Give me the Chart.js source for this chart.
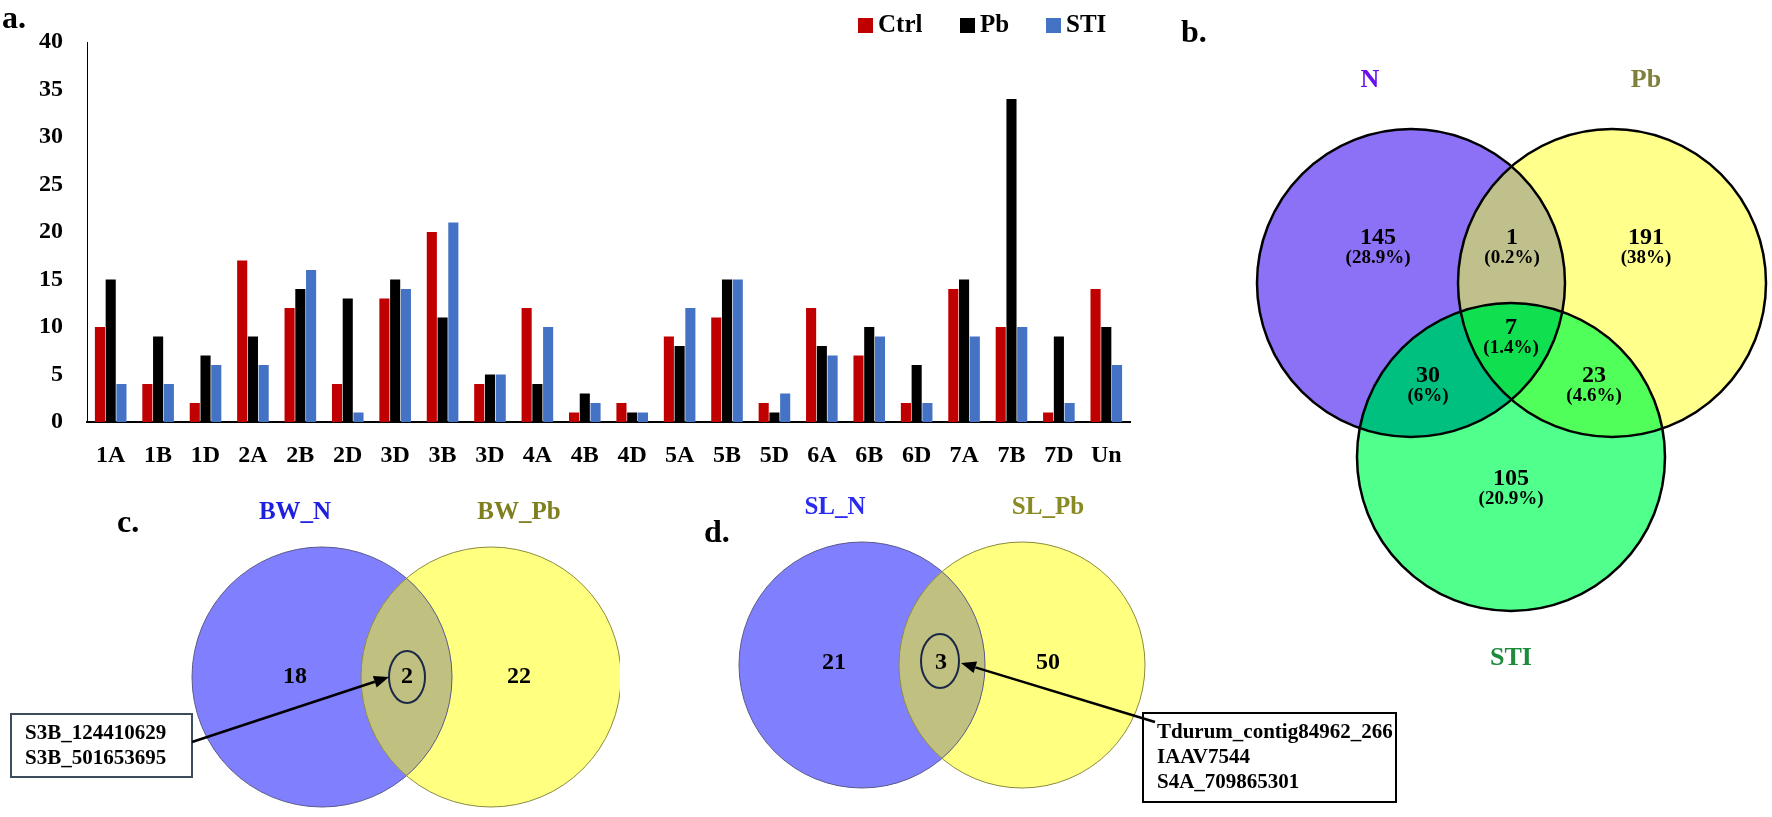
<!DOCTYPE html>
<html>
<head>
<meta charset="utf-8">
<script src="https://cdn.jsdelivr.net/npm/chart.js@4.4.0/dist/chart.umd.min.js"></script>
<style>
  html, body { margin: 0; padding: 0; background: #fff; }
  body { width: 1772px; height: 817px; position: relative; overflow: hidden; }
  canvas { position: absolute; }
</style>
</head>
<body>
<canvas id="bars" width="1150" height="480" style="left:0;top:0"></canvas>
<canvas id="vennB" width="652" height="700" style="left:1120px;top:0"></canvas>
<canvas id="vennC" width="620" height="337" style="left:0;top:480px"></canvas>
<canvas id="vennD" width="800" height="337" style="left:620px;top:480px"></canvas>
<script>
// ---- data ----
var chromosomes = ['1A','1B','1D','2A','2B','2D','3D','3B','3D','4A','4B','4D','5A','5B','5D','6A','6B','6D','7A','7B','7D','Un'];
var ctrlCounts = [10,4,2,17,12,4,13,20,4,12,1,2,9,11,2,12,7,2,14,10,1,14];
var pbCounts   = [15,9,7,9,14,13,15,11,5,4,3,1,8,15,1,8,10,6,15,34,9,10];
var stiCounts  = [4,4,6,6,16,1,14,21,5,10,2,1,12,15,3,7,9,2,9,10,2,6];
var seriesNames = ['Ctrl','Pb','STI'];
var yTickValues = [0,5,10,15,20,25,30,35,40];

// venn b: regions N, N&Pb, Pb, N&STI, N&Pb&STI, Pb&STI, STI
var vennBSets = ['N','Pb','STI'];
var vennBCounts = [145,1,191,30,7,23,105];
var vennBPercents = ['28.9%','0.2%','38%','6%','1.4%','4.6%','20.9%'];

// venn c / d: regions left only, shared, right only
var vennCSets = ['BW_N','BW_Pb'];
var vennCCounts = [18,2,22];
var vennCShared = ['S3B_124410629','S3B_501653695'];
var vennDSets = ['SL_N','SL_Pb'];
var vennDCounts = [21,3,50];
var vennDShared = ['Tdurum_contig84962_266','IAAV7544','S4A_709865301'];

// ---- styling / layout ----
var SERIF = '"Liberation Serif", "Times New Roman", serif';
var seriesColors = ['#C00000','#000000','#4472C4'];
function font(size) { return 'bold ' + size + 'px ' + SERIF; }

// legend for the bar chart, drawn from the datasets
var legendPlugin = {
  id: 'barLegend',
  afterDraw: function (chart) {
    var ctx = chart.ctx;
    var boxX = [858, 960, 1046];
    ctx.save();
    ctx.font = font(25);
    ctx.textBaseline = 'middle';
    chart.data.datasets.forEach(function (ds, i) {
      ctx.fillStyle = ds.backgroundColor;
      ctx.fillRect(boxX[i], 18, 15, 15);
      ctx.fillStyle = '#000';
      ctx.fillText(ds.label, boxX[i] + 20, 26);
    });
    ctx.font = font(32);
    ctx.textBaseline = 'alphabetic';
    ctx.fillText('a.', 2, 28);
    ctx.restore();
  }
};

new Chart(document.getElementById('bars'), {
  type: 'bar',
  data: {
    labels: chromosomes,
    datasets: [
      { label: seriesNames[0], data: ctrlCounts, backgroundColor: seriesColors[0] },
      { label: seriesNames[1], data: pbCounts, backgroundColor: seriesColors[1] },
      { label: seriesNames[2], data: stiCounts, backgroundColor: seriesColors[2] }
    ]
  },
  options: {
    responsive: false,
    animation: false,
    layout: { padding: { left: 0, top: 42, right: 20, bottom: 0 } },
    datasets: { bar: { barPercentage: 0.94, categoryPercentage: 0.68, borderWidth: 0 } },
    plugins: { legend: { display: false }, tooltip: { enabled: false } },
    scales: {
      x: {
        grid: { display: false, drawTicks: false },
        border: { display: true, color: '#000', width: 2 },
        ticks: { color: '#000', font: { family: SERIF, size: 24, weight: 'bold' }, padding: 19, autoSkip: false, maxRotation: 0 },
        afterFit: function (s) { s.height = 58; }
      },
      y: {
        min: 0, max: 40,
        grid: { display: false, drawTicks: false },
        border: { display: true, color: '#000', width: 1 },
        afterBuildTicks: function (s) { s.ticks = yTickValues.map(function (v) { return { value: v }; }); },
        ticks: { color: '#000', font: { family: SERIF, size: 24, weight: 'bold' }, padding: 24 },
        afterFit: function (s) { s.width = 87; }
      }
    }
  },
  plugins: [legendPlugin]
});

// ---- venn diagrams on hidden linear scales (page coordinates) ----
function vennChart(id, box, draw) {
  return new Chart(document.getElementById(id), {
    type: 'scatter',
    data: { datasets: [{ data: [], pointRadius: 0 }] },
    options: {
      responsive: false,
      animation: false,
      layout: { padding: 0 },
      plugins: { legend: { display: false }, tooltip: { enabled: false } },
      scales: {
        x: { type: 'linear', display: false, min: box.left, max: box.left + box.width },
        y: { type: 'linear', display: false, reverse: true, min: box.top, max: box.top + box.height }
      }
    },
    plugins: [{ id: 'venn' + id, afterDatasetsDraw: function (chart) { draw(chart, chart.ctx); } }]
  });
}

function helpers(chart) {
  var sx = chart.scales.x, sy = chart.scales.y;
  return {
    x: function (v) { return sx.getPixelForValue(v); },
    y: function (v) { return sy.getPixelForValue(v); },
    r: function (c) { return sx.getPixelForValue(c.x + c.r) - sx.getPixelForValue(c.x); }
  };
}
function circlePath(ctx, h, c) {
  ctx.beginPath();
  ctx.arc(h.x(c.x), h.y(c.y), h.r(c), 0, Math.PI * 2);
}
function fillRegion(ctx, h, clips, shape, color) {
  ctx.save();
  clips.forEach(function (c) { circlePath(ctx, h, c); ctx.clip(); });
  circlePath(ctx, h, shape);
  ctx.fillStyle = color;
  ctx.fill();
  ctx.restore();
}
function text(ctx, h, s, x, y, size, color, align) {
  ctx.font = font(size);
  ctx.fillStyle = color || '#000';
  ctx.textAlign = align || 'center';
  ctx.textBaseline = 'middle';
  ctx.fillText(s, h.x(x), h.y(y));
}
function arrow(ctx, h, from, to) {
  var x1 = h.x(from[0]), y1 = h.y(from[1]), x2 = h.x(to[0]), y2 = h.y(to[1]);
  var a = Math.atan2(y2 - y1, x2 - x1), len = 15, w = 6;
  ctx.save();
  ctx.strokeStyle = '#000';
  ctx.lineWidth = 2.5;
  ctx.beginPath();
  ctx.moveTo(x1, y1);
  ctx.lineTo(x2 - Math.cos(a) * len, y2 - Math.sin(a) * len);
  ctx.stroke();
  ctx.fillStyle = '#000';
  ctx.beginPath();
  ctx.moveTo(x2, y2);
  ctx.lineTo(x2 - Math.cos(a) * len - Math.sin(a) * w, y2 - Math.sin(a) * len + Math.cos(a) * w);
  ctx.lineTo(x2 - Math.cos(a) * len + Math.sin(a) * w, y2 - Math.sin(a) * len - Math.cos(a) * w);
  ctx.closePath();
  ctx.fill();
  ctx.restore();
}

// venn b
vennChart('vennB', { left: 1120, top: 0, width: 652, height: 700 }, function (chart, ctx) {
  var h = helpers(chart);
  var cN = { x: 1411, y: 283, r: 154 }, cP = { x: 1612, y: 283, r: 154 }, cS = { x: 1511, y: 457, r: 154 };
  fillRegion(ctx, h, [], cN, '#8C70F5');
  fillRegion(ctx, h, [], cP, '#FFFF8C');
  fillRegion(ctx, h, [], cS, '#50FF8C');
  fillRegion(ctx, h, [cN], cP, '#C0C08C');
  fillRegion(ctx, h, [cN], cS, '#00C080');
  fillRegion(ctx, h, [cP], cS, '#50FF5A');
  fillRegion(ctx, h, [cN, cP], cS, '#10E050');
  ctx.save();
  ctx.strokeStyle = '#000';
  ctx.lineWidth = 2.5;
  [cN, cP, cS].forEach(function (c) { circlePath(ctx, h, c); ctx.stroke(); });
  ctx.restore();

  var anchors = [[1378, 238], [1512, 238], [1646, 238], [1428, 376], [1511, 328], [1594, 376], [1511, 479]];
  vennBCounts.forEach(function (n, i) {
    text(ctx, h, String(n), anchors[i][0], anchors[i][1], 24);
    text(ctx, h, '(' + vennBPercents[i] + ')', anchors[i][0], anchors[i][1] + 20, 19);
  });
  text(ctx, h, vennBSets[0], 1370, 80, 26, '#6A10F0');
  text(ctx, h, vennBSets[1], 1646, 80, 26, '#80803A');
  text(ctx, h, vennBSets[2], 1511, 658, 26, '#1E8A3C');
  ctx.font = font(32);
  ctx.fillStyle = '#000';
  ctx.textAlign = 'left';
  ctx.textBaseline = 'alphabetic';
  ctx.fillText('b.', h.x(1181), h.y(42));
});

function twoSetVenn(opts) {
  return function (chart, ctx) {
    var h = helpers(chart);
    var cL = opts.left, cR = opts.right;
    fillRegion(ctx, h, [], cL, '#8080FF');
    fillRegion(ctx, h, [], cR, '#FFFF80');
    fillRegion(ctx, h, [cL], cR, '#C0C080');
    ctx.save();
    ctx.lineWidth = 1;
    ctx.strokeStyle = '#5a5a8a';
    circlePath(ctx, h, cL); ctx.stroke();
    ctx.strokeStyle = '#8a8a40';
    circlePath(ctx, h, cR); ctx.stroke();
    ctx.restore();

    text(ctx, h, String(opts.counts[0]), opts.countX[0], opts.countY, 24);
    text(ctx, h, String(opts.counts[1]), opts.countX[1], opts.countY, 24);
    text(ctx, h, String(opts.counts[2]), opts.countX[2], opts.countY, 24);
    // ring around the shared count
    ctx.save();
    ctx.strokeStyle = '#1C2848';
    ctx.lineWidth = 2;
    ctx.beginPath();
    ctx.ellipse(h.x(opts.ring.x), h.y(opts.ring.y), opts.ring.rx, opts.ring.ry, 0, 0, Math.PI * 2);
    ctx.stroke();
    ctx.restore();

    text(ctx, h, opts.sets[0], opts.setX[0], opts.setY, 25, opts.setColors[0]);
    text(ctx, h, opts.sets[1], opts.setX[1], opts.setY, 25, opts.setColors[1]);

    var b = opts.box;
    ctx.save();
    ctx.fillStyle = '#fff';
    ctx.strokeStyle = opts.boxColor;
    ctx.lineWidth = 2;
    ctx.fillRect(h.x(b.x0), h.y(b.y0), h.x(b.x1) - h.x(b.x0), h.y(b.y1) - h.y(b.y0));
    ctx.strokeRect(h.x(b.x0), h.y(b.y0), h.x(b.x1) - h.x(b.x0), h.y(b.y1) - h.y(b.y0));
    ctx.restore();
    opts.shared.forEach(function (s, i) {
      text(ctx, h, s, b.x0 + 14, b.y0 + 20 + i * 25, 21, '#000', 'left');
    });
    arrow(ctx, h, opts.arrowFrom, opts.arrowTo);

    ctx.font = font(32);
    ctx.fillStyle = '#000';
    ctx.textAlign = 'left';
    ctx.textBaseline = 'alphabetic';
    ctx.fillText(opts.tag, h.x(opts.tagPos[0]), h.y(opts.tagPos[1]));
  };
}

vennChart('vennC', { left: 0, top: 480, width: 620, height: 337 }, twoSetVenn({
  left: { x: 322, y: 677, r: 130 }, right: { x: 491, y: 677, r: 130 },
  counts: vennCCounts, countX: [295, 407, 519], countY: 677,
  ring: { x: 407, y: 677, rx: 18, ry: 26 },
  sets: vennCSets, setX: [295, 519], setY: 513, setColors: ['#1F1FE0', '#7F7F20'],
  box: { x0: 11, y0: 714, x1: 192, y1: 777 }, boxColor: '#3C4C5C', shared: vennCShared,
  arrowFrom: [192, 742], arrowTo: [389, 677],
  tag: 'c.', tagPos: [117, 532]
}));

vennChart('vennD', { left: 620, top: 480, width: 800, height: 337 }, twoSetVenn({
  left: { x: 862, y: 665, r: 123 }, right: { x: 1022, y: 665, r: 123 },
  counts: vennDCounts, countX: [834, 941, 1048], countY: 663,
  ring: { x: 940, y: 661, rx: 19, ry: 27 },
  sets: vennDSets, setX: [835, 1048], setY: 508, setColors: ['#2A2AF0', '#8A8A25'],
  box: { x0: 1143, y0: 713, x1: 1396, y1: 802 }, boxColor: '#000', shared: vennDShared,
  arrowFrom: [1155, 722], arrowTo: [961, 663],
  tag: 'd.', tagPos: [704, 542]
}));
</script>
</body>
</html>
